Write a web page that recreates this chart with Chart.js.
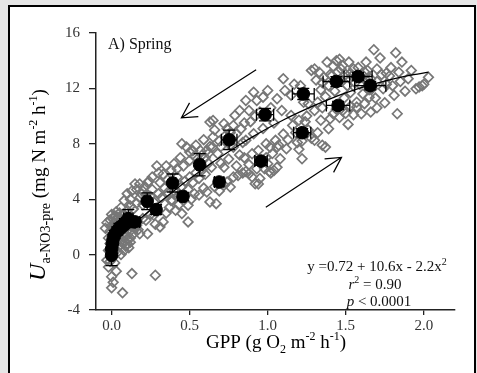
<!DOCTYPE html>
<html>
<head>
<meta charset="utf-8">
<script src="https://cdn.jsdelivr.net/npm/chart.js@4.4.1/dist/chart.umd.min.js"></script>
<style>
  html, body { margin: 0; padding: 0; background: #e6e6e6; }
</style>
</head>
<body>
<canvas id="myChart" width="477" height="373"></canvas>
<script>
// individual observations (GPP, uptake) - grey diamonds
var obsPoints = [
  [-0.02,-0.9],[-0.01,-0.5],[0.0,-0.2],[0.01,0.1],[-0.02,0.3],[0.0,0.5],[0.02,0.4],[-0.01,0.8],[0.01,1.0],[0.03,0.8],
  [-0.02,1.2],[0.0,1.4],[0.02,1.3],[0.04,1.1],[-0.01,1.7],[0.01,1.9],[0.03,1.6],[0.05,1.5],[0.0,2.1],[0.02,2.3],
  [0.04,2.0],[0.06,1.8],[-0.01,2.5],[0.01,2.6],[0.03,2.5],[0.05,2.3],[0.07,2.1],[0.08,1.6],[0.06,1.2],[0.07,0.9],
  [0.05,0.6],[0.09,0.6],[0.08,1.3],[0.1,1.1],[0.11,0.5],[0.04,0.2],[0.06,0.0],[0.02,-0.6],[0.03,-1.2],[0.0,-1.6],
  [0.01,-2.0],[0.0,-2.4],[0.07,-2.76],[0.13,-1.37],[0.28,-1.49],[-0.03,-0.4],[0.02,2.8],[0.04,2.7],[0.06,2.6],[0.09,2.4],
  [0.1,2.0],[0.12,1.7],[0.12,2.2],[0.14,1.5],[0.15,1.9],[0.17,1.8],[0.1,0.8],[-0.04,1.9],[-0.03,2.3],[0.0,2.9],
  [0.03,3.1],[0.07,2.9],[0.11,2.7],[0.13,2.0],[0.08,0.3],[0.12,0.9],
  [0.05,3.0],[0.06,3.4],[0.08,3.9],[0.1,4.4],[0.12,4.0],[0.13,4.6],[0.15,5.1],[0.16,4.7],[0.18,5.1],[0.19,4.4],
  [0.21,4.9],[0.23,5.2],[0.24,5.3],[0.26,4.7],[0.29,6.4],[0.3,5.9],[0.33,5.8],[0.35,6.4],[0.38,6.1],[0.4,6.56],
  [0.42,6.2],[0.44,7.0],[0.45,8.0],[0.48,7.76],[0.5,7.4],[0.52,7.5],[0.54,7.9],[0.57,7.5],[0.55,6.9],
  [0.08,2.9],[0.1,3.2],[0.12,3.5],[0.14,3.3],[0.16,3.7],[0.18,4.1],[0.2,3.6],[0.22,4.3],[0.25,4.2],[0.27,3.8],
  [0.3,4.4],[0.32,4.1],[0.34,4.8],[0.36,4.5],[0.38,3.9],[0.4,4.6],[0.43,4.3],[0.45,4.9],[0.47,5.3],[0.49,4.7],
  [0.5,5.6],[0.52,5.2],[0.54,5.9],[0.56,5.5],[0.58,6.1],[0.6,5.8],[0.62,6.6],[0.64,6.3],
  [0.2,4.6],[0.26,5.6],[0.31,5.2],[0.36,5.4],[0.42,5.6],[0.46,6.4],[0.5,6.8],[0.53,7.1],[0.58,7.2],[0.62,7.3],
  [0.12,1.2],[0.14,2.4],[0.16,2.1],[0.18,1.5],[0.2,2.6],[0.22,2.48],[0.23,1.5],[0.25,2.9],[0.27,2.84],[0.28,2.2],
  [0.31,2.0],[0.33,2.36],[0.35,3.0],[0.37,3.4],[0.39,3.9],[0.41,3.2],[0.43,3.6],[0.45,2.96],[0.46,3.9],[0.49,2.36],
  [0.49,3.56],[0.51,4.0],[0.53,4.4],[0.56,4.3],[0.59,4.8],[0.61,4.52],[0.63,3.8],[0.67,3.68],[0.66,4.9],[0.69,4.6],
  [0.72,5.0],[0.74,5.24],[0.76,4.88],[0.78,5.6],[0.81,5.72],[0.84,5.9],[0.88,5.84],[0.92,5.12],[0.95,5.5],[0.98,6.2],
  [1.0,6.56],[1.04,6.08],[1.02,5.9],[1.06,6.3],
  [0.6,7.0],[0.61,7.52],[0.63,7.8],[0.645,7.76],[0.65,8.49],[0.66,9.0],[0.68,7.28],[0.7,7.8],[0.72,9.45],[0.73,8.6],
  [0.74,9.09],[0.76,7.9],[0.78,9.33],[0.78,7.76],[0.79,10.05],[0.8,8.7],[0.82,10.4],[0.83,9.09],[0.84,8.1],[0.86,11.13],
  [0.86,8.25],[0.88,10.4],[0.89,9.6],[0.91,8.73],[0.91,11.73],[0.93,11.13],[0.94,7.52],[0.95,10.3],[0.97,11.37],[0.97,9.1],
  [0.99,8.0],[1.0,11.85],[1.015,7.76],[1.02,10.6],[1.04,9.5],[1.05,8.25],[1.06,7.76],[1.06,11.25],[1.08,6.92],[1.09,10.4],
  [1.1,12.7],[1.11,11.85],[1.12,7.64],[1.13,8.3],[1.15,11.5],[1.15,10.05],[1.16,9.33],[1.17,12.3],[1.19,8.1],[1.2,9.7],
  [1.21,12.2],[1.22,6.92],[1.23,11.0],[1.25,10.0],[1.26,10.9],[0.63,9.57],[0.65,9.69],[0.59,8.3],[0.7,6.6],[0.72,6.3],
  [0.75,6.9],[0.8,6.4],[0.82,7.2],[0.85,7.0],[0.88,6.5],[0.9,7.28],[0.93,6.2],[0.96,6.8],[0.99,7.0],[1.01,6.0],
  [1.03,7.3],[1.07,7.9],[1.1,8.7],[0.94,5.1],[0.9,5.6],[0.86,6.0],[0.69,8.2],[0.76,8.8],[0.85,9.5],[0.92,10.0],
  [1.28,13.3],[1.3,13.4],[1.31,12.6],[1.33,13.17],[1.34,11.9],[1.36,12.8],[1.37,11.4],[1.38,13.9],[1.39,12.2],[1.4,13.0],
  [1.42,13.6],[1.43,11.8],[1.44,14.0],[1.45,13.2],[1.46,14.1],[1.47,12.6],[1.48,13.65],[1.49,11.3],[1.5,13.0],[1.51,12.2],
  [1.52,13.9],[1.53,11.7],[1.54,12.9],[1.55,13.4],[1.56,12.4],[1.57,11.0],[1.58,13.5],[1.6,12.8],[1.61,11.6],[1.62,13.2],
  [1.63,13.9],[1.64,13.3],[1.65,11.9],[1.66,12.7],[1.67,12.0],[1.68,14.79],[1.69,11.3],[1.7,12.5],[1.72,14.2],[1.73,13.0],
  [1.74,11.97],[1.75,10.96],[1.76,12.3],[1.78,12.9],[1.79,13.5],[1.81,11.5],[1.82,14.57],[1.83,10.17],[1.84,13.17],[1.85,12.5],
  [1.86,13.9],[1.88,11.8],[1.9,12.7],[1.92,13.3],[1.95,11.97],[1.97,12.1],[1.99,12.2],[2.0,12.3],[2.03,12.8],
  [1.35,12.4],[1.41,12.9],[1.47,13.4],[1.53,13.1],[1.59,12.3],[1.64,12.5],[1.7,13.4],[1.76,13.1],[1.8,12.2],
  [1.28,8.4],[1.3,8.25],[1.32,8.8],[1.34,9.7],[1.35,7.9],[1.37,7.76],[1.39,9.09],[1.4,9.8],[1.42,10.17],[1.44,10.5],
  [1.46,9.9],[1.48,10.4],[1.5,10.2],[1.515,9.4],[1.53,10.7],[1.55,10.1],[1.57,10.65],[1.6,10.17],[1.62,10.9],[1.65,11.37],
  [1.66,10.29],[1.7,10.6],[1.24,9.6],[1.26,9.0],[1.22,8.2],[1.2,7.6],[1.18,8.8],[1.3,10.4],[1.32,11.0],[1.35,10.6]
];

// daily means with error bars - black circles
var meanGpp      = [0.0, 0.0, 0.005, 0.01, 0.02, 0.035, 0.05, 0.07, 0.085, 0.107, 0.15, 0.228, 0.285, 0.391, 0.457, 0.564, 0.689, 0.753, 0.957, 0.983, 1.221, 1.228, 1.451, 1.44, 1.579, 1.657];
var meanUptake   = [-0.05, 0.4, 0.8, 1.15, 1.45, 1.7, 1.95, 2.1, 2.3, 2.6, 2.36, 3.85, 3.25, 5.17, 4.2, 6.49, 5.24, 8.29, 6.75, 10.1, 8.8, 11.6, 10.77, 12.5, 12.86, 12.2];
var meanGppErr   = [0.01, 0.01, 0.01, 0.01, 0.01, 0.01, 0.01, 0.02, 0.02, 0.03, 0.03, 0.02, 0.03, 0.02, 0.02, 0.02, 0.03, 0.05, 0.04, 0.055, 0.055, 0.07, 0.075, 0.085, 0.09, 0.1];
var meanUptakeErr= [0.75, 0.3, 0.3, 0.3, 0.3, 0.3, 0.3, 0.3, 0.3, 0.65, 0.3, 0.6, 0.35, 0.65, 0.3, 0.8, 0.3, 0.7, 0.3, 0.45, 0.3, 0.4, 0.3, 0.35, 0.3, 0.3];

// fitted curve
var fitGpp    = [0, 0.1, 0.2, 0.3, 0.4, 0.5, 0.6, 0.7, 0.8, 0.9, 1.0, 1.1, 1.2, 1.3, 1.4, 1.5, 1.6, 1.7, 1.8, 1.9, 2.03];
var fitUptake = [0.72, 1.76, 2.75, 3.70, 4.61, 5.47, 6.29, 7.06, 7.79, 8.48, 9.12, 9.72, 10.27, 10.78, 11.25, 11.67, 12.05, 12.38, 12.67, 12.92, 13.17];

var xTickVals = [0, 0.5, 1.0, 1.5, 2.0];
var yTickVals = [-4, 0, 4, 8, 12, 16];

// arrows: [x0, y0, x1, y1] in data units, head at the end
var arrows = [
  [0.926, 13.35, 0.447, 9.88],
  [0.988, 3.41, 1.473, 7.02]
];

var serif = "'Liberation Serif', 'Times New Roman', serif";

function drawRich(ctx, segs, x, y) {
  var total = 0;
  segs.forEach(function (s) { ctx.font = s.font; s.w = ctx.measureText(s.t).width; total += s.w; });
  var cx = x - total / 2;
  segs.forEach(function (s) {
    ctx.font = s.font;
    ctx.fillText(s.t, cx, y + (s.dy || 0));
    cx += s.w;
  });
}

var panel = {
  id: 'panel',
  beforeDraw: function (chart) {
    var ctx = chart.ctx;
    ctx.save();
    ctx.fillStyle = '#e6e6e6';
    ctx.fillRect(0, 0, chart.width, chart.height);
    ctx.fillStyle = '#fff';
    ctx.fillRect(9, 6, 466, 400);
    ctx.strokeStyle = '#000';
    ctx.lineWidth = 2;
    ctx.strokeRect(9, 6, 466, 400);
    ctx.restore();
  }
};

var errorBars = {
  id: 'errorBars',
  beforeDatasetDraw: function (chart, args) {
    if (args.index !== 0) return;
    var xs = chart.scales.x, ys = chart.scales.y, ctx = chart.ctx, cap = 6;
    ctx.save();
    ctx.strokeStyle = '#000';
    ctx.lineWidth = 1.3;
    ctx.beginPath();
    meanGpp.forEach(function (g, i) {
      var px = xs.getPixelForValue(g), py = ys.getPixelForValue(meanUptake[i]);
      var y1 = ys.getPixelForValue(meanUptake[i] + meanUptakeErr[i]);
      var y2 = ys.getPixelForValue(meanUptake[i] - meanUptakeErr[i]);
      var x1 = xs.getPixelForValue(g - meanGppErr[i]);
      var x2 = xs.getPixelForValue(g + meanGppErr[i]);
      ctx.moveTo(px, y1); ctx.lineTo(px, y2);
      ctx.moveTo(px - cap, y1); ctx.lineTo(px + cap, y1);
      ctx.moveTo(px - cap, y2); ctx.lineTo(px + cap, y2);
      ctx.moveTo(x1, py); ctx.lineTo(x2, py);
      ctx.moveTo(x1, py - cap); ctx.lineTo(x1, py + cap);
      ctx.moveTo(x2, py - cap); ctx.lineTo(x2, py + cap);
    });
    ctx.stroke();
    ctx.restore();
  }
};

var labels = {
  id: 'labels',
  afterDraw: function (chart) {
    var ctx = chart.ctx, xs = chart.scales.x, ys = chart.scales.y;
    ctx.save();
    // arrows
    ctx.strokeStyle = '#000';
    ctx.lineWidth = 1.2;
    arrows.forEach(function (a) {
      var x0 = xs.getPixelForValue(a[0]), y0 = ys.getPixelForValue(a[1]);
      var x1 = xs.getPixelForValue(a[2]), y1 = ys.getPixelForValue(a[3]);
      var ang = Math.atan2(y0 - y1, x0 - x1), len = 17, spread = 0.5;
      ctx.beginPath();
      ctx.moveTo(x0, y0); ctx.lineTo(x1, y1);
      ctx.moveTo(x1 + len * Math.cos(ang + spread), y1 + len * Math.sin(ang + spread));
      ctx.lineTo(x1, y1);
      ctx.lineTo(x1 + len * Math.cos(ang - spread), y1 + len * Math.sin(ang - spread));
      ctx.stroke();
    });

    ctx.fillStyle = '#111';
    ctx.textBaseline = 'alphabetic';
    ctx.textAlign = 'left';
    ctx.font = '16px ' + serif;
    ctx.fillText('A) Spring', 108, 49);

    drawRich(ctx, [
      { t: 'y =0.72 + 10.6x - 2.2x', font: '15px ' + serif },
      { t: '2', font: '10px ' + serif, dy: -6 }
    ], 377, 271);
    drawRich(ctx, [
      { t: 'r', font: 'italic 15px ' + serif },
      { t: '2', font: '10px ' + serif, dy: -6 },
      { t: ' = 0.90', font: '15px ' + serif }
    ], 375, 289);
    drawRich(ctx, [
      { t: 'p', font: 'italic 15px ' + serif },
      { t: ' < 0.0001', font: '15px ' + serif }
    ], 379, 306);

    // x axis title
    ctx.fillStyle = '#000';
    drawRich(ctx, [
      { t: 'GPP (g O', font: '19px ' + serif },
      { t: '2', font: '12px ' + serif, dy: 5 },
      { t: ' m', font: '19px ' + serif },
      { t: '-2', font: '12px ' + serif, dy: -8 },
      { t: ' h', font: '19px ' + serif },
      { t: '-1', font: '12px ' + serif, dy: -8 },
      { t: ')', font: '19px ' + serif }
    ], 276, 348);

    // y axis title
    ctx.translate(45, 185);
    ctx.rotate(-Math.PI / 2);
    drawRich(ctx, [
      { t: 'U', font: 'italic 24px ' + serif },
      { t: 'a-NO3-pre', font: '14px ' + serif, dy: 5 },
      { t: ' (mg N m', font: '19px ' + serif },
      { t: '-2', font: '12px ' + serif, dy: -8 },
      { t: ' h', font: '19px ' + serif },
      { t: '-1', font: '12px ' + serif, dy: -8 },
      { t: ')', font: '19px ' + serif }
    ], 0, 0);
    ctx.restore();
  }
};

var ctx = document.getElementById('myChart').getContext('2d');
var myChart = new Chart(ctx, {
  type: 'scatter',
  data: {
    datasets: [{
      label: 'means',
      data: meanGpp.map(function (g, i) { return { x: g, y: meanUptake[i] }; }),
      pointStyle: 'circle',
      pointRadius: 6.3,
      backgroundColor: '#000',
      borderColor: '#000',
      borderWidth: 1
    }, {
      label: 'fit',
      type: 'line',
      data: fitGpp.map(function (g, i) { return { x: g, y: fitUptake[i] }; }),
      borderColor: '#000',
      borderWidth: 1.3,
      pointRadius: 0,
      fill: false,
      cubicInterpolationMode: 'monotone'
    }, {
      label: 'observations',
      data: obsPoints.map(function (p) { return { x: p[0], y: p[1] }; }),
      pointStyle: 'rectRot',
      pointRadius: 4.8,
      backgroundColor: 'rgba(0,0,0,0)',
      borderColor: '#777',
      borderWidth: 1.7
    }]
  },
  options: {
    responsive: false,
    animation: false,
    layout: { padding: { left: 0, right: 22, top: 33, bottom: 0 } },
    plugins: {
      legend: { display: false },
      tooltip: { enabled: false }
    },
    scales: {
      x: {
        type: 'linear',
        min: -0.1,
        max: 2.2,
        afterBuildTicks: function (scale) { scale.ticks = xTickVals.map(function (v) { return { value: v }; }); },
        afterFit: function (scale) { scale.height = 63; },
        ticks: {
          padding: 2,
          color: '#333',
          font: { family: serif, size: 15 },
          callback: function (v) { return Number(v).toFixed(1); }
        },
        grid: { drawOnChartArea: false, drawTicks: true, tickLength: 5, color: '#222', lineWidth: 1.3 },
        border: { display: true, color: '#222', width: 1.5 }
      },
      y: {
        type: 'linear',
        min: -4,
        max: 16,
        afterBuildTicks: function (scale) { scale.ticks = yTickVals.map(function (v) { return { value: v }; }); },
        afterFit: function (scale) { scale.width = 96; },
        ticks: {
          padding: 9,
          color: '#333',
          font: { family: serif, size: 15 },
          callback: function (v) { return String(v); }
        },
        grid: { drawOnChartArea: false, drawTicks: true, tickLength: 7, color: '#222', lineWidth: 1.3 },
        border: { display: true, color: '#222', width: 1.5 }
      }
    }
  },
  plugins: [panel, errorBars, labels]
});
</script>
</body>
</html>
